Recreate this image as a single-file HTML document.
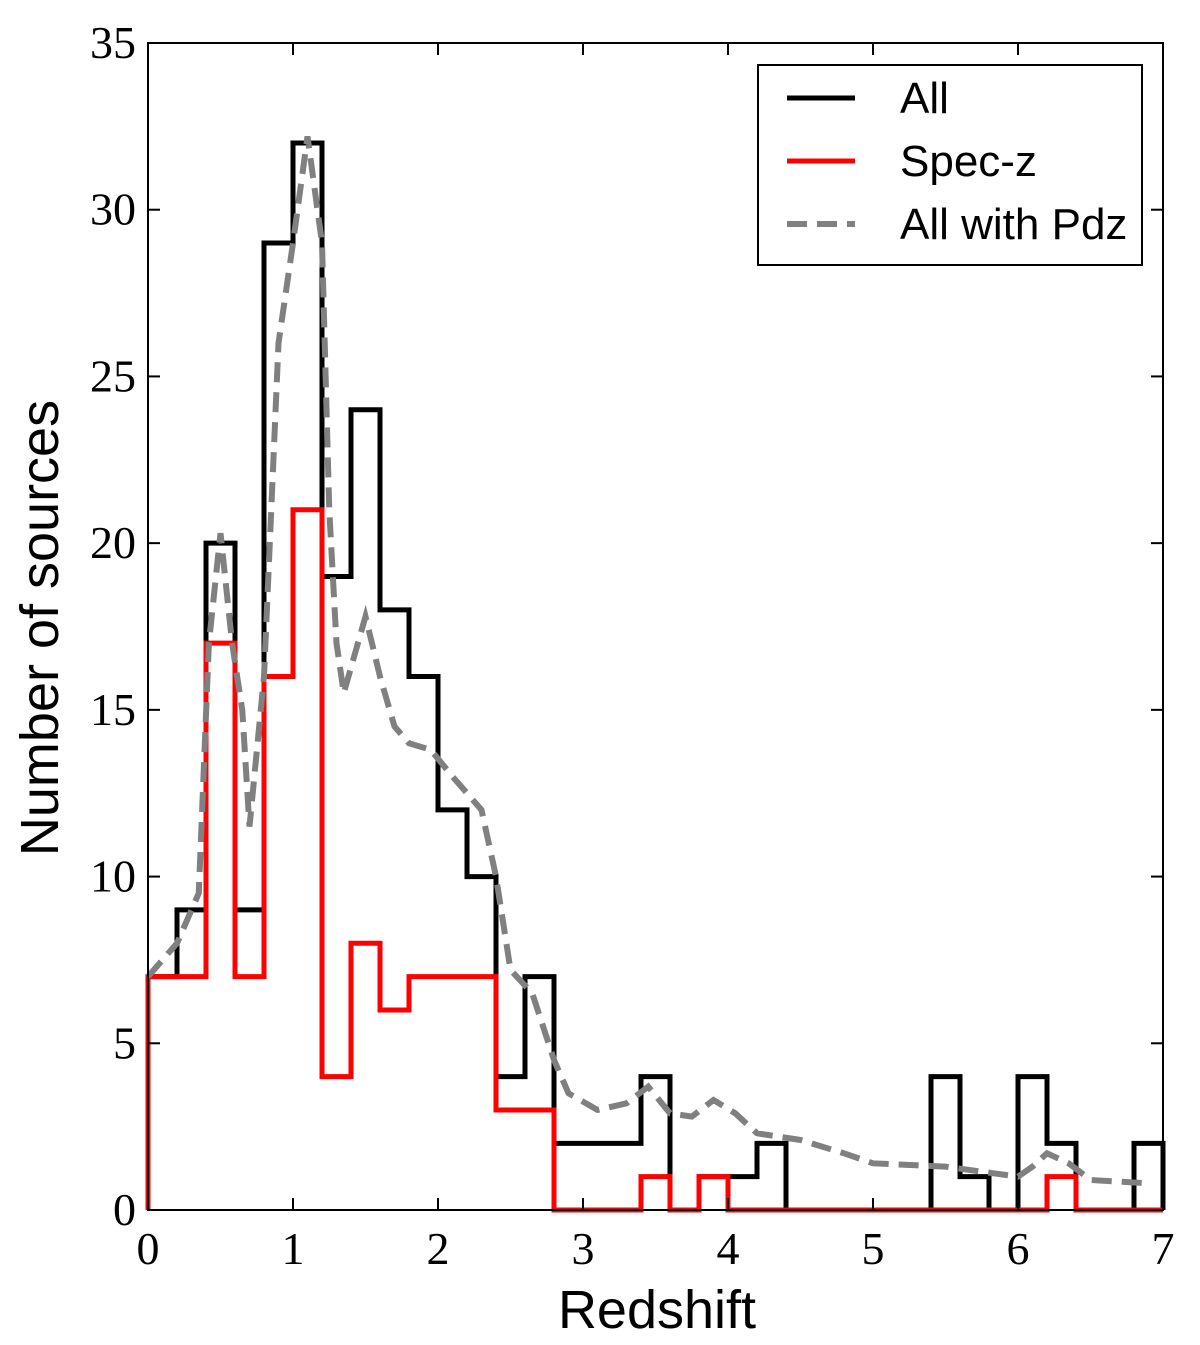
<!DOCTYPE html>
<html><head><meta charset="utf-8"><style>
html,body{margin:0;padding:0;background:#fff;}
svg{display:block;}
</style></head><body>
<svg id="chart" width="1200" height="1345" xmlns="http://www.w3.org/2000/svg"></svg>
<script>
const xTicks=[0,1,2,3,4,5,6,7];
const yTicks=[0,5,10,15,20,25,30,35];
const binWidth=0.2;
const allCounts=[7,9,20,9,29,32,19,24,18,16,12,10,4,7,2,2,2,4,0,1,1,2,0,0,0,0,0,4,1,0,4,2,0,0,2];
const specCounts=[7,7,17,7,16,21,4,8,6,7,7,7,3,3,0,0,0,1,0,1,0,0,0,0,0,0,0,0,0,0,0,1,0,0,0];
const pdzX=[0,0.2,0.35,0.42,0.5,0.58,0.65,0.7,0.8,0.9,1.0,1.1,1.2,1.25,1.3,1.35,1.5,1.6,1.7,1.8,1.95,2.1,2.3,2.4,2.5,2.65,2.8,2.9,3.1,3.3,3.45,3.6,3.75,3.9,4.05,4.2,4.5,4.8,5.0,5.5,6.0,6.1,6.2,6.35,6.5,6.9];
const pdzY=[7,8,9.5,17,20.3,17,15,11.5,16,26,29,32.2,29,21,17,15.5,17.8,16,14.5,14,13.8,13,12,10,7.2,6.5,4.5,3.5,3.0,3.2,3.7,2.9,2.8,3.3,2.9,2.3,2.1,1.7,1.4,1.3,1.0,1.3,1.7,1.4,0.9,0.8];

const L=148,R=1163,T=43,B=1210;
const X=v=>L+(R-L)*v/7;
const Y=v=>B-(B-T)*v/35;
const svg=document.getElementById('chart');
const NS='http://www.w3.org/2000/svg';
function el(tag,attrs,parent){const e=document.createElementNS(NS,tag);for(const k in attrs)e.setAttribute(k,attrs[k]);(parent||svg).appendChild(e);return e;}

function stepPath(counts){
  let d='M'+X(0)+','+Y(0);
  counts.forEach((c,i)=>{d+=' L'+X(i*binWidth)+','+Y(c)+' L'+X((i+1)*binWidth)+','+Y(c);});
  d+=' L'+X(counts.length*binWidth)+','+Y(0);
  return d;
}
const plot=el('g',{});



const pAll=el('path',{d:stepPath(allCounts),fill:'none',stroke:'#000','stroke-width':5},plot);


const pSpec=el('path',{d:stepPath(specCounts),fill:'none',stroke:'#f00','stroke-width':5},plot);


const pd=pdzX.map((x,i)=>(i?'L':'M')+X(x)+','+Y(pdzY[i])).join(' ');
const pPdz=el('path',{d:pd,fill:'none',stroke:'#808080','stroke-width':6,'stroke-dasharray':'20,10'},plot);



const frame=el('rect',{x:L,y:T,width:R-L,height:B-T,fill:'none',stroke:'#000','stroke-width':2});



xTicks.forEach(t=>{
  el('line',{x1:X(t),x2:X(t),y1:B,y2:B-12,stroke:'#000','stroke-width':2});
  el('line',{x1:X(t),x2:X(t),y1:T,y2:T+12,stroke:'#000','stroke-width':2});
  const tx=el('text',{x:X(t),y:1264,'text-anchor':'middle','font-family':'"Liberation Serif",serif','font-size':46},svg);
  tx.textContent=t;
  
  
});
yTicks.forEach(t=>{
  el('line',{x1:L,x2:L+12,y1:Y(t),y2:Y(t),stroke:'#000','stroke-width':2});
  el('line',{x1:R,x2:R-12,y1:Y(t),y2:Y(t),stroke:'#000','stroke-width':2});
  const ty=el('text',{x:136,y:Y(t)+15,'text-anchor':'end','font-family':'"Liberation Serif",serif','font-size':46},svg);
  ty.textContent=t;
  
  
});
const xl=el('text',{x:657,y:1328,'text-anchor':'middle','font-family':'"Liberation Sans",sans-serif','font-size':54});
xl.textContent='Redshift';


const yl=el('text',{x:0,y:0,transform:'translate(58,628) rotate(-90)','text-anchor':'middle','font-family':'"Liberation Sans",sans-serif','font-size':54});
yl.textContent='Number of sources';



const lg=el('g',{});


el('rect',{x:758,y:65,width:384,height:200,fill:'#fff',stroke:'#000','stroke-width':2},lg);
const entries=[['All','#000',null],['Spec-z','#f00',null],['All with Pdz','#808080','20,10']];
entries.forEach((e,i)=>{
  const y=98+i*63;
  const a={x1:787,x2:855,y1:y,y2:y,stroke:e[1],'stroke-width':e[2]?6:5};
  if(e[2])a['stroke-dasharray']=e[2];
  el('line',a,lg);
  const t=el('text',{x:900,y:y+15,'font-family':'"Liberation Sans",sans-serif','font-size':44},lg);
  t.textContent=e[0];
  
  
});
</script>
</body></html>
